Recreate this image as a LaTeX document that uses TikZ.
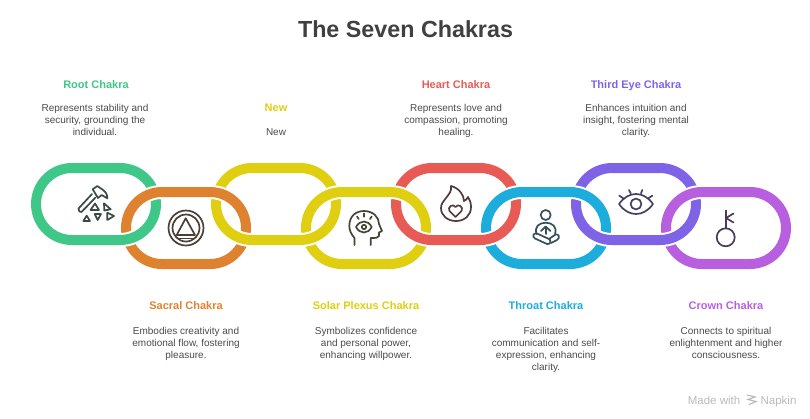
\documentclass[tikz,border=0pt]{standalone}
\usepackage{fontspec}
\setmainfont{Liberation Sans}
\definecolor{rootc}{HTML}{3EC787}
\definecolor{sacralc}{HTML}{DF8230}
\definecolor{newc}{HTML}{E0CE10}
\definecolor{solarc}{HTML}{E0CE10}
\definecolor{heartc}{HTML}{E85B55}
\definecolor{throatc}{HTML}{1DADDC}
\definecolor{eyec}{HTML}{7F63E6}
\definecolor{crownc}{HTML}{B85FE0}
\definecolor{bodyc}{HTML}{4A4A4A}
\definecolor{rooti}{HTML}{3A4A45}
\definecolor{sacrali}{HTML}{4B4038}
\definecolor{solari}{HTML}{454535}
\definecolor{hearti}{HTML}{503A3C}
\definecolor{throati}{HTML}{35505C}
\definecolor{eyei}{HTML}{453F60}
\definecolor{crowni}{HTML}{4A3B58}
\begin{document}
\begin{tikzpicture}[x=1pt,y=-1pt,
  every node/.style={inner sep=0pt},
  halo/.style={white,line width=14pt,rounded corners=36pt},
  link/.style={line width=10pt,rounded corners=36pt},
  head/.style={font=\fontsize{11}{14}\selectfont\bfseries,anchor=base},
  body/.style={font=\fontsize{10}{12}\selectfont,text=bodyc,align=center,anchor=north},
  icon/.style={line width=1.7pt,line cap=round,line join=round}]
\useasboundingbox (0,0) rectangle (810,418);
\node [anchor=base] (title) at (405.5,37.5) {\fontsize{23.3}{28}\selectfont\bfseries\textcolor{black!75}{The Seven Chakras}};
% upper links
\draw [link,rootc] (36,168) rectangle (156,240);
\draw [link,newc] (216,168) rectangle (336,240);
\draw [link,heartc] (396,168) rectangle (516,240);
\draw [link,eyec] (576,168) rectangle (696,240);
% lower links
\draw [halo] (126,192) rectangle (246,264);
\draw [link,sacralc] (126,192) rectangle (246,264);
\draw [halo] (306,192) rectangle (426,264);
\draw [link,solarc] (306,192) rectangle (426,264);
\draw [halo] (486,192) rectangle (606,264);
\draw [link,throatc] (486,192) rectangle (606,264);
\draw [halo] (666,192) rectangle (786,264);
\draw [link,crownc] (666,192) rectangle (786,264);
% upper links again, over at the lower crossings
\begin{scope}
\clip (0,216) rectangle (810,252);
\draw [halo] (36,168) rectangle (156,240);
\draw [link,rootc] (36,168) rectangle (156,240);
\draw [halo] (216,168) rectangle (336,240);
\draw [link,newc] (216,168) rectangle (336,240);
\draw [halo] (396,168) rectangle (516,240);
\draw [link,heartc] (396,168) rectangle (516,240);
\draw [halo] (576,168) rectangle (696,240);
\draw [link,eyec] (576,168) rectangle (696,240);
\end{scope}
% root icon
\draw [icon,rooti] (92,194) -- (78.5,208.5) .. controls (78,211) and (80,212.5) .. (81.5,212) -- (95.5,197.5);
\draw [icon,rooti] (92.7,189.3) -- (97.3,186) -- (101,188.5) .. controls (105,191) and (107.5,194) .. (107.3,198.3) -- (101.7,195) -- (98,198) -- cycle;
\draw [icon,rooti] (95,203.5) -- (99,210) -- (90.5,210) -- cycle;
\draw [icon,rooti] (104,203.3) -- (110.7,209.3) -- (104.3,210.5) -- cycle;
\draw [icon,rooti] (86.7,215.7) -- (90,221) -- (83.3,221) -- cycle;
\draw [icon,rooti] (94.7,214) -- (101,214) -- (97.7,220) -- cycle;
\draw [icon,rooti] (107.3,212.7) -- (114,216) -- (107.3,220) -- cycle;
% sacral icon
\draw [icon,sacrali] (186,228) circle (17.5);
\draw [icon,sacrali] (186,228) circle (13.5);
\draw [icon,sacrali] (185.7,218.3) -- (176.7,235) -- (195,235) -- cycle;
\draw [icon,sacrali] (178,238.5) -- (194,238.5);
% solar icon
\draw [icon,solari] (354.5,245) -- (354.5,238) .. controls (351,234) and (349.3,230) .. (349.3,226) .. controls (349.3,216) and (356,211) .. (364,211) .. controls (373,211) and (379,217) .. (379,224) -- (382,231) -- (379,232.5) -- (379,236) .. controls (378,238) and (376,238) .. (370.7,238) -- (370.7,245);
\draw [icon,solari] (356,227) .. controls (360,219.7) and (368,219.7) .. (371.7,227) .. controls (368,234.3) and (360,234.3) .. (356,227) -- cycle;
\draw [icon,solari] (364,227) circle (2.2);
\draw [icon,solari] (364,213.5) -- (364,216.7);
\draw [icon,solari] (357,216.5) -- (358.7,219);
\draw [icon,solari] (371.7,216.5) -- (370,219);
% heart icon
\draw [icon,hearti] (451,186) .. controls (452,191) and (449,194) .. (446,198) .. controls (443,202) and (441,204) .. (441,208) .. controls (441,216) and (448,221) .. (456,221) .. controls (465,221) and (471,215) .. (471,207) .. controls (471,203) and (470,200) .. (468,197) .. controls (467,199) and (466,200) .. (464,201) .. controls (464,195) and (459,188) .. (451,186) -- cycle;
\draw [icon,hearti] (455.5,217) -- (449.5,211) .. controls (447,207) and (453,203) .. (455.5,207) .. controls (458,203) and (464,207) .. (461.5,211) -- cycle;
% throat icon
\draw [icon,throati] (545.7,215) circle (5);
\draw [icon,throati] (536.5,234) .. controls (534,227) and (539,222.7) .. (545.7,222.7) .. controls (552.4,222.7) and (557.5,227) .. (555,234);
\draw [icon,throati] (545.7,234) -- (545.7,227);
\draw [icon,throati] (541,231) -- (545.7,226.5) -- (550.4,231);
\draw [icon,throati] (535,238.5) -- (547,244) .. controls (550,245) and (552,240.5) .. (549,239) -- (537,233.5) .. controls (533,232.5) and (532,237) .. (535,238.5) -- cycle;
\draw [icon,throati] (549,239) -- (555.5,234.5) .. controls (559,233.5) and (560.5,238) .. (557,240) -- (551,243);
% eye icon
\draw [icon,eyei] (619,204) .. controls (624,197) and (630,194) .. (636,194) .. controls (642,194) and (648,197) .. (653,204) .. controls (648,211) and (642,214) .. (636,214) .. controls (630,214) and (624,211) .. (619,204) -- cycle;
\draw [icon,eyei] (636,204) circle (5.4);
\draw [icon,eyei] (623.3,198.3) -- (619.3,195.7);
\draw [icon,eyei] (630.7,193.3) -- (629,190);
\draw [icon,eyei] (641,193.3) -- (642.3,190);
\draw [icon,eyei] (648.3,198.3) -- (652.3,195.7);
% crown icon
\draw [icon,crowni] (725.7,237.3) circle (9);
\draw [icon,crowni] (726,228) -- (726,210.5);
\draw [icon,crowni] (733.5,213.5) -- (726,218) -- (733.5,222.5);
% labels
\node [head,text=rootc] (root head) at (96,88) {Root Chakra};
\node [body] (root text) at (95,104.5) {Represents stability and\\security, grounding the\\individual.};
\node [head,text=newc] (new head) at (276,111) {New};
\node [body] (new text) at (276,128.5) {New};
\node [head,text=heartc] (heart head) at (456,88) {Heart Chakra};
\node [body] (heart text) at (456,104.5) {Represents love and\\compassion, promoting\\healing.};
\node [head,text=eyec] (eye head) at (636,88) {Third Eye Chakra};
\node [body] (eye text) at (636,104.5) {Enhances intuition and\\insight, fostering mental\\clarity.};
\node [head,text=sacralc] (sacral head) at (186,309) {Sacral Chakra};
\node [body] (sacral text) at (186,327.5) {Embodies creativity and\\emotional flow, fostering\\pleasure.};
\node [head,text=solarc] (solar head) at (366,309) {Solar Plexus Chakra};
\node [body] (solar text) at (366,327.5) {Symbolizes confidence\\and personal power,\\enhancing willpower.};
\node [head,text=throatc] (throat head) at (546,309) {Throat Chakra};
\node [body] (throat text) at (546,327.5) {Facilitates\\communication and self-\\expression, enhancing\\clarity.};
\node [head,text=crownc] (crown head) at (726,309) {Crown Chakra};
\node [body] (crown text) at (726,327.5) {Connects to spiritual\\enlightenment and higher\\consciousness.};
% footer
\node [anchor=base,text=black!27] (made with) at (714,404) {\fontsize{11.5}{14}\selectfont Made with};
\node [anchor=base,text=black!27] (napkin) at (778.5,404) {\fontsize{11.5}{14}\selectfont Napkin};
\draw [black!27,line width=1.2pt] (747,395) -- (755,397) -- (748,399.5) -- (756,401.5) -- (749,404.5);
\end{tikzpicture}
\end{document}
